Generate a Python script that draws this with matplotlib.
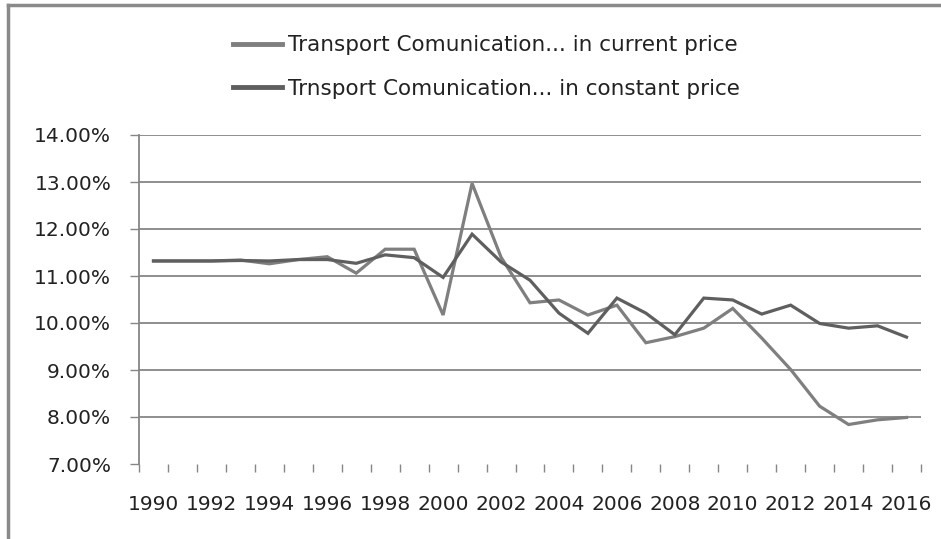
import matplotlib
matplotlib.use("Agg")
import matplotlib.pyplot as plt
from matplotlib.lines import Line2D
import numpy as np

years = list(range(1990, 2017))
current_price = [11.32, 11.32, 11.32, 11.34, 11.26, 11.35, 11.41, 11.06, 11.57, 11.57,
                 10.17, 12.97, 11.40, 10.43, 10.49, 10.17, 10.38, 9.58, 9.71, 9.89,
                 10.31, 9.68, 9.01, 8.23, 7.84, 7.94, 7.99]
constant_price = [11.32, 11.32, 11.32, 11.33, 11.32, 11.35, 11.35, 11.27, 11.45, 11.39,
                  10.97, 11.89, 11.30, 10.91, 10.21, 9.78, 10.53, 10.21, 9.75, 10.53,
                  10.49, 10.19, 10.38, 9.99, 9.89, 9.94, 9.70]
labels = ["Transport Comunication... in current price",
          "Trnsport Comunication... in constant price"]
y_ticks = [7, 8, 9, 10, 11, 12, 13, 14]

W, H = 941, 539
fig = plt.figure(figsize=(W / 100, H / 100), dpi=100)
plt.rcParams['font.family'] = ['DejaVu Sans']

ax = fig.add_axes([139 / W, (H - 464) / H, (921 - 139) / W, (464 - 135) / H])

x = np.arange(len(years))
c_cur = '#7f7f7f'
c_con = '#5f5f5f'
ax.plot(x, current_price, color=c_cur, lw=2.3, solid_joinstyle='miter', zorder=3)
ax.plot(x, constant_price, color=c_con, lw=2.3, solid_joinstyle='miter', zorder=4)

ax.set_xlim(-0.5, len(years) - 0.5)
ax.set_ylim(7, 14)
ax.set_yticks(y_ticks)
ax.set_yticklabels([f"{v:.2f}%" for v in y_ticks], fontsize=14.5, color='#222222')
for v in y_ticks[1:]:
    ax.axhline(v, color='#868686', lw=1.3, zorder=1)

ax.set_xticks(x[::2])
ax.set_xticklabels([str(y) for y in years[::2]], fontsize=14.5, color='#222222')
ax.tick_params(axis='x', which='major', length=0, pad=22)
ax.set_xticks(np.arange(-0.5, len(years), 1.0), minor=True)
ax.tick_params(axis='x', which='minor', length=5.5, width=1, color='#868686', direction='out')
ax.tick_params(axis='y', length=6.5, width=1, color='#868686', pad=13.5)

for s in ['top', 'right', 'bottom']:
    ax.spines[s].set_visible(False)
ax.spines['left'].set_color('#868686')
ax.spines['left'].set_linewidth(1.3)
ax.spines['left'].set_bounds(7, 14)

handles = [Line2D([0], [0], color=c_cur, lw=3.5), Line2D([0], [0], color=c_con, lw=3.5)]
fig.legend(handles, labels, loc='center', bbox_to_anchor=(486 / W, 1 - 67 / H),
           frameon=False, fontsize=15.5, handlelength=2.3, handletextpad=0.25,
           labelspacing=1.08, labelcolor='#222222')

# outer chart border (left and top visible)
fig.add_artist(Line2D([8 / W, 8 / W], [0, 1 - 5 / H], color='#8a8a8a', lw=2.5,
                      transform=fig.transFigure))
fig.add_artist(Line2D([8 / W, 1], [1 - 5 / H, 1 - 5 / H], color='#8a8a8a', lw=2.5,
                      transform=fig.transFigure))

fig.savefig("out.png", dpi=100)
